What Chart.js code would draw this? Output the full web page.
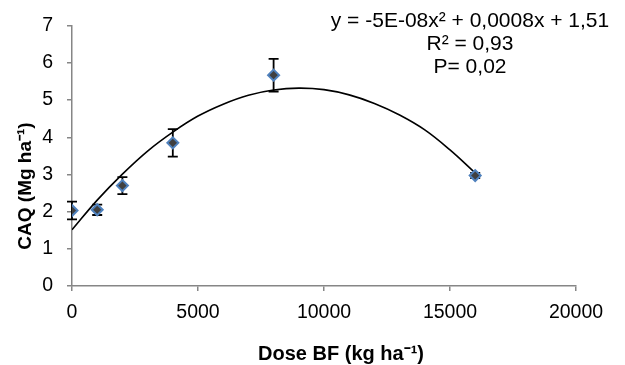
<!DOCTYPE html>
<html>
<head>
	<title>CAQ x Dose BF</title>
	<script src="https://cdn.jsdelivr.net/npm/chart.js@4"></script>
	<style>
		body { margin: 0; background: #fff; }
		#wrap { width: 625px; height: 365px; }
	</style>
</head>
<body>
	<div id="wrap">
		<canvas id="chart"></canvas>
	</div>

	<script type="text/javascript">
		// observed means and error bars
		var doses = [0, 1000, 2000, 4000, 8000, 16000];
		var caq = [2.03, 2.05, 2.70, 3.85, 5.67, 2.97];
		var caqErr = [0.24, 0.14, 0.23, 0.37, 0.44, 0.07];

		// trend curve
		var curveX = [0, 1000, 2000, 3000, 4000, 5000, 6000, 7000, 8000, 9000, 10000, 11000, 12000, 13000, 14000, 15000, 16000];
		var curveY = [1.51, 2.31, 3.01, 3.63, 4.14, 4.57, 4.89, 5.13, 5.27, 5.32, 5.28, 5.14, 4.91, 4.60, 4.20, 3.66, 3.04];

		var xTicks = [0, 5000, 10000, 15000, 20000];
		var yTicks = [0, 1, 2, 3, 4, 5, 6, 7];

		var eqLines = ['y = -5E-08x² + 0,0008x + 1,51', 'R² = 0,93', 'P= 0,02'];
		var xTitle = 'Dose BF (kg ha⁻¹)';
		var yTitle = 'CAQ (Mg ha⁻¹)';

		var FONT = "'Liberation Sans', Arial, sans-serif";
		var AXIS = '#868686';

		var pts = doses.map(function (d, i) { return { x: d, y: caq[i] }; });
		var curve = curveX.map(function (d, i) { return { x: d, y: curveY[i] }; });

		// error bars under the markers
		var errorBars = {
			id: 'errorBars',
			beforeDatasetsDraw: function (chart) {
				var c = chart.ctx, xs = chart.scales.x, ys = chart.scales.y;
				c.save();
				c.strokeStyle = '#000';
				c.lineWidth = 1.8;
				for (var i = 0; i < doses.length; i++) {
					var px = xs.getPixelForValue(doses[i]);
					var top = ys.getPixelForValue(caq[i] + caqErr[i]);
					var bot = ys.getPixelForValue(caq[i] - caqErr[i]);
					c.beginPath();
					c.moveTo(px, top); c.lineTo(px, bot);
					c.moveTo(px - 5, top); c.lineTo(px + 5, top);
					c.moveTo(px - 5, bot); c.lineTo(px + 5, bot);
					c.stroke();
				}
				c.restore();
			}
		};

		// equation text and axis titles
		var labels = {
			id: 'labels',
			afterDraw: function (chart) {
				var c = chart.ctx;
				c.save();
				c.fillStyle = '#000';
				c.textAlign = 'center';
				c.textBaseline = 'middle';
				c.font = '21px ' + FONT;
				var ly = [21, 44, 67];
				for (var i = 0; i < eqLines.length; i++) {
					c.fillText(eqLines[i], 470, ly[i]);
				}
				c.font = 'bold 20px ' + FONT;
				c.fillText(xTitle, 341, 354);
				c.font = 'bold 19px ' + FONT;
				c.translate(26, 186);
				c.rotate(-Math.PI / 2);
				c.fillText(yTitle, 0, 0);
				c.restore();
			}
		};

		function plain(v) { return String(v); }

		var config = {
			type: 'scatter',
			data: {
				datasets: [
					{
						label: 'CAQ',
						data: pts,
						pointStyle: 'rectRot',
						pointRadius: 5.5,
						pointBackgroundColor: '#404040',
						pointBorderColor: '#4F81BD',
						pointBorderWidth: 2,
						showLine: false,
						order: 1
					},
					{
						label: 'trend',
						data: curve,
						showLine: true,
						borderColor: '#000',
						borderWidth: 1.6,
						tension: 0.4,
						pointRadius: 0,
						fill: false,
						order: 2
					}
				]
			},
			options: {
				responsive: true,
				maintainAspectRatio: false,
				animation: false,
				layout: { padding: { left: 0, top: 21, right: 49, bottom: 0 } },
				plugins: {
					legend: { display: false },
					tooltip: { enabled: false }
				},
				scales: {
					x: {
						type: 'linear',
						min: xTicks[0],
						max: xTicks[xTicks.length - 1],
						afterBuildTicks: function (s) { s.ticks = xTicks.map(function (v) { return { value: v }; }); },
						afterFit: function (s) { s.height = 79; },
						grid: { drawOnChartArea: false, drawTicks: true, tickLength: 5, color: AXIS, lineWidth: 1.5 },
						border: { color: AXIS, width: 1.5 },
						ticks: { color: '#000', padding: 10, maxRotation: 0, callback: plain, font: { family: FONT, size: 19.5 } }
					},
					y: {
						min: yTicks[0],
						max: yTicks[yTicks.length - 1],
						afterBuildTicks: function (s) { s.ticks = yTicks.map(function (v) { return { value: v }; }); },
						afterFit: function (s) { s.width = 72; },
						grid: { drawOnChartArea: false, drawTicks: true, tickLength: 5, color: AXIS, lineWidth: 1.5 },
						border: { color: AXIS, width: 1.5 },
						ticks: { color: '#000', padding: 14, callback: plain, font: { family: FONT, size: 19.5 } }
					}
				}
			},
			plugins: [errorBars, labels]
		};

		var ctx = document.getElementById('chart').getContext('2d');
		var chart = new Chart(ctx, config);
	</script>
</body>
</html>
